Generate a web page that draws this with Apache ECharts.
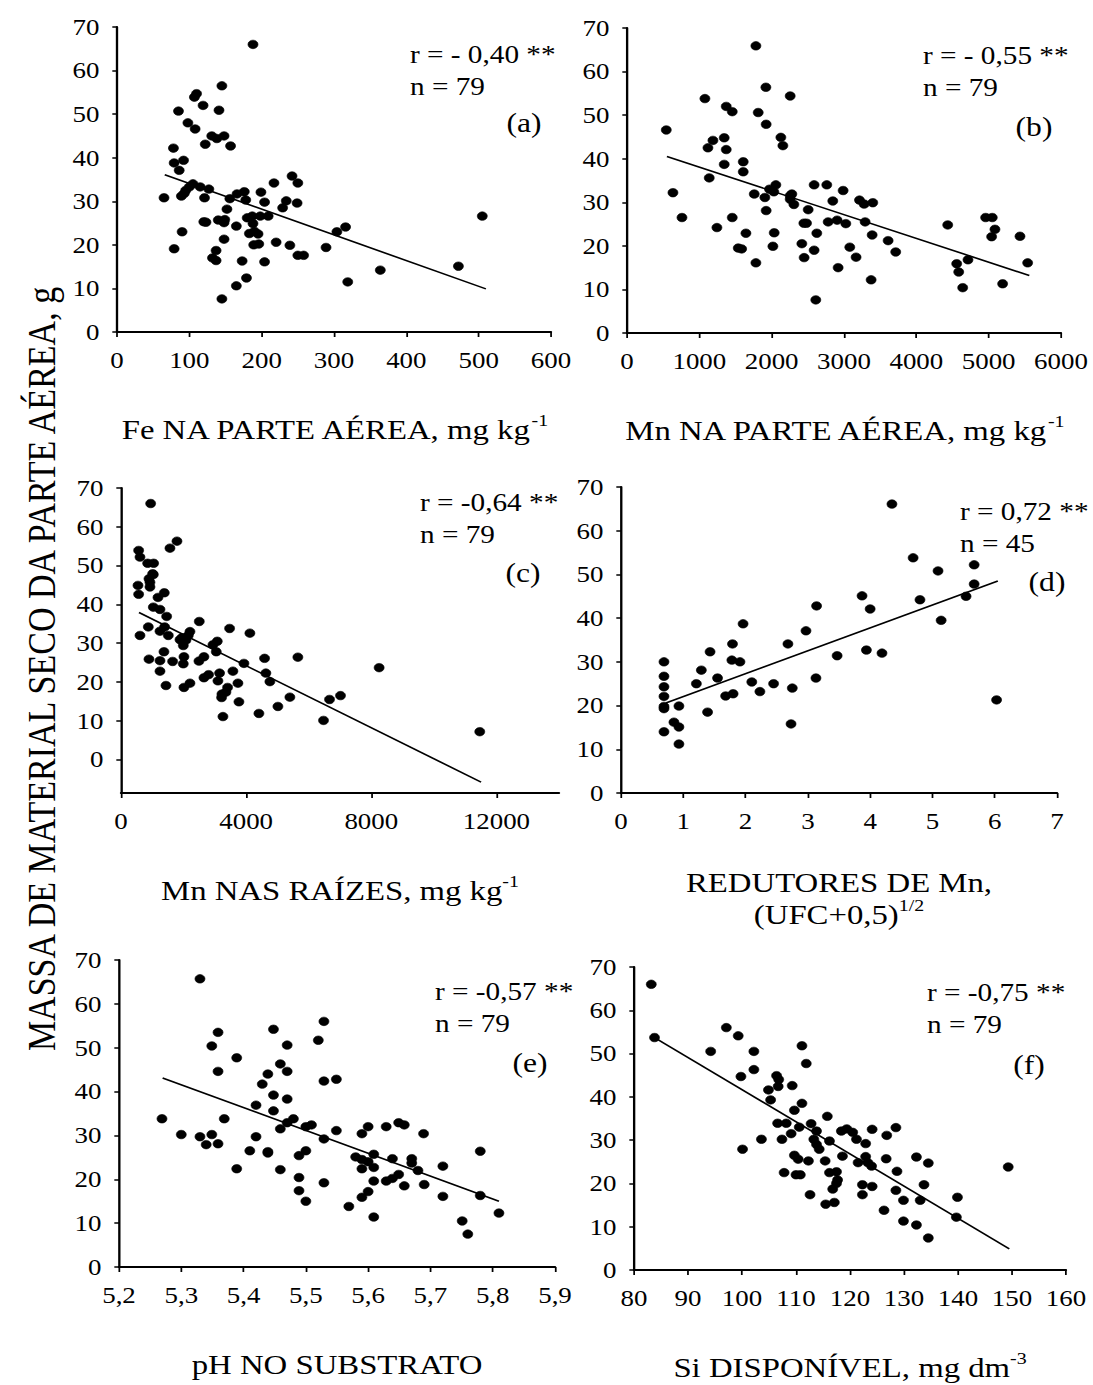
<!DOCTYPE html>
<html>
<head>
<meta charset="utf-8">
<script src="https://cdn.jsdelivr.net/npm/echarts@6/dist/echarts.min.js"></script>
<style>
  html, body { margin: 0; padding: 0; background: #fff; overflow: hidden; }
  /* The figure is laid out narrower and widened horizontally, like the printed plate. */
  #chart { width: 934px; height: 1385px; transform: scaleX(1.17); transform-origin: 0 0; }
</style>
</head>
<body>
<div id="chart"></div>
<script>
// Shoot dry mass (g) against six explanatory variables, with fitted lines.

// (a) Fe in shoots, mg/kg
const dataA = [
  [188,66.0],[145,56.5],[110,54.7],[107,53.9],[119,52.0],[85,50.7],[141,50.9],[98,48.0],[108,46.6],
  [131,45.0],[148,45.0],[138,44.4],[122,43.1],[157,42.7],[78,42.2],[92,39.4],[79,38.8],[86,37.1],
  [242,35.8],[250,34.2],[217,34.2],[105,34.0],[115,33.3],[127,32.8],[95,32.5],[100,33.3],[176,32.2],
  [166,31.7],[199,32.1],[65,30.8],[89,31.2],[121,30.8],[156,30.6],[178,30.3],[204,29.8],[234,30.1],
  [249,29.6],[229,28.5],[152,28.2],[187,26.6],[198,26.6],[209,26.6],[180,26.2],[505,26.6],[140,25.7],
  [149,25.8],[120,25.3],[123,25.2],[148,25.1],[188,24.9],[165,24.3],[316,24.1],[304,23.0],[90,23.0],
  [183,22.6],[195,22.5],[190,23.1],[148,21.3],[220,20.6],[196,20.2],[189,20.0],[239,19.9],[289,19.4],
  [79,19.1],[137,18.7],[250,17.6],[258,17.6],[132,17.0],[137,16.4],[173,16.3],[204,16.1],[472,15.1],
  [364,14.2],[179,12.4],[319,11.5],[165,10.6],[145,7.6],[93,31.8]
];
const trendA = [[66,36.1],[510,9.9]];

// (b) Mn in shoots, mg/kg
const dataB = [
  [1782,65.9],[1920,56.4],[2256,54.4],[1077,53.8],[1372,52.0],[1455,50.8],[1814,50.6],[1924,47.9],
  [543,46.6],[1344,44.8],[1188,44.2],[1119,42.5],[1372,42.1],[2127,44.9],[2155,43.0],[1607,39.3],
  [1344,38.7],[1607,37.0],[1137,35.6],[2058,34.0],[2587,34.0],[2762,34.0],[1970,33.0],[2030,32.4],
  [2988,32.7],[2279,31.9],[2256,30.7],[1759,31.9],[1906,31.1],[3214,30.5],[3278,29.6],[3398,29.9],
  [2845,30.3],[2307,29.5],[635,32.2],[2505,28.3],[1924,28.1],[760,26.5],[1455,26.5],[2781,25.5],
  [2905,25.9],[2445,25.2],[2482,25.2],[3025,25.1],[3292,25.5],[1243,24.2],[2035,23.0],[2624,22.9],
  [3389,22.5],[1644,22.9],[3610,21.2],[2017,19.9],[2417,20.5],[1538,19.5],[3080,19.7],[2587,19.0],
  [3715,18.6],[3167,17.4],[2449,17.3],[1782,16.1],[2919,15.0],[3375,12.2],[2610,7.6],[4434,24.8],
  [4958,26.5],[5050,26.5],[5087,23.8],[5041,22.1],[5433,22.2],[5539,16.1],[4714,16.8],[4558,15.9],
  [4586,14.0],[4641,10.4],[5193,11.3],[1585,19.3],[2256,31.5]
];
const trendB = [[552,40.5],[5562,13.2]];

// (c) Mn in roots, mg/kg
const dataC = [
  [948,66.0],[1789,56.3],[1565,54.5],[564,53.9],[607,52.2],[852,50.6],[1043,50.6],[1011,47.9],
  [894,46.6],[543,44.9],[926,44.5],[564,42.6],[1384,43.0],[1182,41.8],[1033,39.3],[1246,38.7],
  [1459,36.9],[2502,35.6],[873,34.2],[1395,34.2],[3471,33.8],[4120,32.6],[607,32.0],[1246,33.1],
  [1512,32.0],[2204,33.0],[2151,32.0],[1885,30.9],[2076,30.8],[3077,30.5],[2939,29.6],[1991,29.4],
  [3045,27.8],[1373,27.8],[5653,26.4],[4589,26.1],[894,25.9],[1246,25.5],[1650,25.3],[2012,26.5],
  [2651,26.5],[2491,25.4],[1991,24.7],[3929,24.8],[8251,23.7],[1246,22.8],[3151,22.3],[3577,22.8],
  [4631,22.3],[2800,21.9],[2651,21.1],[3098,20.3],[4759,20.1],[3737,19.7],[2204,19.7],[1437,19.1],
  [2012,18.6],[3407,18.6],[3354,17.4],[3226,16.9],[3215,16.0],[5398,16.1],[7016,16.5],[6665,15.5],
  [3769,14.9],[5015,13.7],[4408,11.9],[3258,11.1],[6473,10.1],[11467,7.2],[926,45.7],[1033,47.7],
  [1948,31.4]
];
const trendC = [[575,37.9],[11509,-5.8]];

// (d) Mn-reducing organisms, (UFC+0.5)^1/2
const dataD = [
  [4.35,66.1],[4.69,53.8],[5.67,52.2],[5.09,50.8],[5.67,47.8],[5.54,45.0],[3.87,45.1],[4.80,44.2],
  [4.00,42.1],[3.14,42.8],[5.14,39.5],[1.96,38.7],[2.97,37.1],[2.68,34.1],[1.79,34.1],[3.94,32.7],
  [4.19,32.0],[1.43,32.3],[3.47,31.4],[0.69,30.0],[1.78,30.4],[1.91,30.0],[1.29,28.1],[0.69,26.7],
  [1.55,26.3],[3.13,26.3],[2.10,25.4],[1.21,25.0],[2.45,25.0],[0.69,24.3],[2.75,24.0],[2.23,23.2],
  [1.80,22.7],[1.68,22.2],[0.69,22.1],[0.93,19.9],[0.69,19.8],[0.69,19.3],[6.03,21.3],[1.39,18.5],
  [0.85,16.2],[0.93,15.1],[2.73,15.8],[0.69,14.0],[0.93,11.2]
];
const trendD = [[0.72,20.6],[6.05,48.5]];

// (e) substrate pH
const dataE = [
  [5.330,65.7],[5.529,56.0],[5.448,54.2],[5.359,53.5],[5.520,51.7],[5.349,50.4],[5.470,50.6],
  [5.389,47.7],[5.459,46.3],[5.439,44.0],[5.359,44.6],[5.470,44.6],[5.430,41.7],[5.529,42.4],
  [5.549,42.8],[5.448,39.2],[5.470,38.3],[5.420,36.9],[5.448,35.6],[5.269,33.8],[5.369,33.8],
  [5.480,33.8],[5.470,32.9],[5.459,31.5],[5.500,32.0],[5.509,32.4],[5.549,31.1],[5.629,32.0],
  [5.600,32.0],[5.649,32.9],[5.658,32.4],[5.590,30.4],[5.689,30.4],[5.529,29.2],[5.300,30.2],
  [5.330,29.7],[5.349,30.2],[5.340,27.9],[5.359,28.1],[5.420,29.7],[5.410,26.5],[5.439,26.0],
  [5.500,26.5],[5.489,25.4],[5.609,25.7],[5.580,25.1],[5.590,24.5],[5.600,24.0],[5.639,24.7],
  [5.670,24.7],[5.670,23.7],[5.720,23.0],[5.780,26.4],[5.389,22.4],[5.459,22.2],[5.590,22.4],
  [5.609,22.7],[5.680,22.0],[5.489,20.4],[5.529,19.2],[5.609,19.6],[5.629,19.6],[5.639,20.2],
  [5.649,21.1],[5.658,18.5],[5.690,18.8],[5.600,17.2],[5.590,15.9],[5.489,17.4],[5.500,15.0],
  [5.569,13.8],[5.720,16.1],[5.780,16.3],[5.609,11.4],[5.751,10.5],[5.760,7.5],[5.810,12.3],
  [5.439,26.3]
];
const trendE = [[5.270,43.1],[5.810,15.0]];

// (f) available Si, mg/dm3
const dataF = [
  [83.2,66.0],[83.8,53.7],[97.1,56.0],[99.3,54.1],[94.2,50.5],[102.2,50.5],[111.1,51.8],[102.2,46.3],
  [111.9,47.7],[99.8,44.7],[106.4,44.9],[106.8,44.0],[109.3,42.6],[106.7,42.4],[104.9,41.6],[105.3,39.3],
  [111.1,38.5],[109.7,36.9],[115.8,35.5],[106.6,33.9],[108.2,33.9],[112.8,33.8],[110.6,33.0],[109.1,31.5],
  [113.8,32.1],[118.4,32.1],[119.4,32.6],[120.5,31.8],[124.1,32.5],[128.5,32.9],[126.8,31.1],[121.2,30.2],
  [103.6,30.2],[107.4,30.2],[113.3,30.2],[113.8,29.0],[116.2,29.8],[122.9,29.2],[114.3,27.9],[100.1,27.9],
  [109.7,26.5],[110.4,25.6],[112.3,25.2],[115.4,25.2],[118.6,26.3],[122.9,26.2],[126.7,25.7],[132.3,26.1],
  [134.5,24.7],[121.5,24.8],[123.3,24.8],[124.0,24.0],[128.7,22.8],[149.3,23.8],[107.8,22.5],[110.0,22.0],
  [110.8,22.0],[116.2,22.5],[117.5,22.7],[117.7,20.8],[117.5,20.0],[116.8,18.7],[122.3,19.7],[124.1,19.3],
  [133.7,19.7],[112.6,17.4],[122.3,17.4],[128.5,18.4],[129.9,16.1],[133.0,16.1],[115.5,15.2],[117.1,15.6],
  [126.3,13.8],[139.9,16.8],[139.7,12.2],[129.9,11.3],[132.3,10.4],[134.5,7.4]
];
const trendF = [[83.8,53.7],[149.5,4.9]];

// Tick values
const massTicks = [0, 10, 20, 30, 40, 50, 60, 70];
const rootTicks = [0, 4000, 8000, 12000];
const phTicks = [5.2, 5.3, 5.4, 5.5, 5.6, 5.7, 5.8, 5.9];

// Axis titles (rich text: t = normal, s = superscript)
const axisTitles = [
  '{t|Fe NA PARTE AÉREA, mg kg}{s|-1}',
  '{t|Mn NA PARTE AÉREA, mg kg}{s|-1}',
  '{t|Mn NAS RAÍZES, mg kg}{s|-1}',
  '{t|REDUTORES DE Mn,}\n{t|(UFC+0,5)}{s|1/2}',
  '{t|pH NO SUBSTRATO}',
  '{t|Si DISPONÍVEL, mg dm}{s|-3}'
];
const massTitle = 'MASSA DE MATERIAL SECO DA PARTE AÉREA, g';

// Statistics printed in each panel
const statLabels = [
  ['r = - 0,40 **', 'n = 79', '(a)'],
  ['r = - 0,55 **', 'n = 79', '(b)'],
  ['r = -0,64 **', 'n = 79', '(c)'],
  ['r = 0,72 **', 'n = 45', '(d)'],
  ['r = -0,57 **', 'n = 79', '(e)'],
  ['r = -0,75 **', 'n = 79', '(f)']
];

const SX = 1.17;                 // horizontal widening applied by CSS
const hx = v => v / SX;          // page x -> layout x
const FONT = '"Liberation Serif", "Times New Roman", serif';
const TICK_FS = 23;
const NAME_FS = 28;
const SUP_FS = 17;
const BLACK = '#000';

// Plot areas, in page pixels [left, top, width, height]
const gridBoxes = [
  [117, 27, 434, 305],
  [627, 28, 434, 305],
  [121, 488, 438, 305],
  [621, 487, 436, 306],
  [119, 960, 436, 307],
  [634, 967, 432, 303]
];
const grids = gridBoxes.map(b => ({ left: hx(b[0]), top: b[1], width: hx(b[2]), height: b[3] }));

const richName = {
  t: { fontFamily: FONT, fontSize: NAME_FS, color: BLACK, lineHeight: 32, verticalAlign: 'bottom' },
  s: { fontFamily: FONT, fontSize: SUP_FS, color: BLACK, lineHeight: 22, verticalAlign: 'top' }
};

const lineStyle = { color: BLACK, width: 2 };
const tickStyle = { color: BLACK, width: 1.5 };
const xLabelStyle = { color: BLACK, fontFamily: FONT, fontSize: TICK_FS, margin: 17 };
const yLabelStyle = { color: BLACK, fontFamily: FONT, fontSize: TICK_FS, margin: 15 };
const plain = v => String(v);

function xAxisBase(i, extra) {
  return Object.assign({
    type: 'value',
    gridIndex: i,
    name: axisTitles[i],
    nameLocation: 'middle',
    nameGap: 80,
    nameTextStyle: { rich: richName },
    axisLine: { show: true, onZero: false, lineStyle },
    axisTick: { show: true, inside: false, length: 5, lineStyle: tickStyle },
    splitLine: { show: false },
    axisLabel: Object.assign({ formatter: plain }, xLabelStyle)
  }, extra);
}

function yAxisBase(i, extra) {
  return Object.assign({
    type: 'value',
    gridIndex: i,
    min: 0, max: 70, interval: 10,
    axisLine: { show: true, onZero: false, lineStyle },
    axisTick: { show: true, inside: false, length: 4, lineStyle: tickStyle },
    splitLine: { show: false },
    axisLabel: Object.assign({}, yLabelStyle)
  }, extra);
}

const xAxes = [
  xAxisBase(0, { min: 0, max: 600, interval: 100 }),
  xAxisBase(1, { min: 0, max: 6000, interval: 1000 }),
  xAxisBase(2, { min: 0, max: 14000,
    axisLabel: Object.assign({ formatter: plain, customValues: rootTicks }, xLabelStyle),
    axisTick: { show: true, inside: false, length: 5, lineStyle: tickStyle, customValues: rootTicks } }),
  xAxisBase(3, { min: 0, max: 7, interval: 1, nameGap: 72 }),
  xAxisBase(4, { min: 5.2, max: 5.9,
    axisLabel: Object.assign({ customValues: phTicks, formatter: v => v.toFixed(1).replace('.', ',') }, xLabelStyle),
    axisTick: { show: true, inside: false, length: 5, lineStyle: tickStyle, customValues: phTicks } }),
  xAxisBase(5, { min: 80, max: 160, interval: 10 })
];

const yAxes = [
  yAxisBase(0), yAxisBase(1),
  yAxisBase(2, { min: -8.6, max: 70, interval: null,
    axisLabel: Object.assign({ customValues: massTicks }, yLabelStyle),
    axisTick: { show: true, inside: false, length: 4, lineStyle: tickStyle, customValues: massTicks } }),
  yAxisBase(3), yAxisBase(4), yAxisBase(5)
];

const panels = [dataA, dataB, dataC, dataD, dataE, dataF];
const trends = [trendA, trendB, trendC, trendD, trendE, trendF];

const series = [];
panels.forEach((d, i) => {
  series.push({
    type: 'scatter', xAxisIndex: i, yAxisIndex: i, data: d,
    symbol: 'circle', symbolSize: 8.5,
    itemStyle: { color: BLACK, borderColor: BLACK, borderWidth: 0.6, opacity: 1 }, silent: true, z: 3
  });
  series.push({
    type: 'line', xAxisIndex: i, yAxisIndex: i, data: trends[i],
    symbol: 'none', lineStyle: { color: BLACK, width: 1.6 }, silent: true, z: 2
  });
});

// Page-pixel anchors of the statistics block: [x of r/n lines, y of r line, x of letter centre, y of letter]
const statPos = [
  [410, 55, 524, 123],
  [923, 56, 1034, 127],
  [420, 503, 523, 573],
  [960, 512, 1047, 582],
  [435, 992, 530, 1063],
  [927, 993, 1029, 1065]
];

const graphics = [];
statLabels.forEach((lab, i) => {
  const p = statPos[i];
  graphics.push({ type: 'text', x: hx(p[0]), y: p[1],
    style: { text: lab[0], fontFamily: FONT, fontSize: 25, fill: BLACK, align: 'left', verticalAlign: 'middle' } });
  graphics.push({ type: 'text', x: hx(p[0]), y: p[1] + 32,
    style: { text: lab[1], fontFamily: FONT, fontSize: 25, fill: BLACK, align: 'left', verticalAlign: 'middle' } });
  graphics.push({ type: 'text', x: hx(p[2]), y: p[3],
    style: { text: lab[2], fontFamily: FONT, fontSize: 27, fill: BLACK, align: 'center', verticalAlign: 'middle' } });
});
graphics.push({
  type: 'text', x: hx(42), y: 669, rotation: Math.PI / 2,
  style: { text: massTitle, fontFamily: FONT, fontSize: 34,
    fill: BLACK, align: 'center', verticalAlign: 'middle' }
});

const chart = echarts.init(document.getElementById('chart'), null, { renderer: 'svg' });
chart.setOption({
  backgroundColor: '#fff',
  animation: false,
  grid: grids,
  xAxis: xAxes,
  yAxis: yAxes,
  series: series,
  graphic: graphics
});
</script>
</body>
</html>
